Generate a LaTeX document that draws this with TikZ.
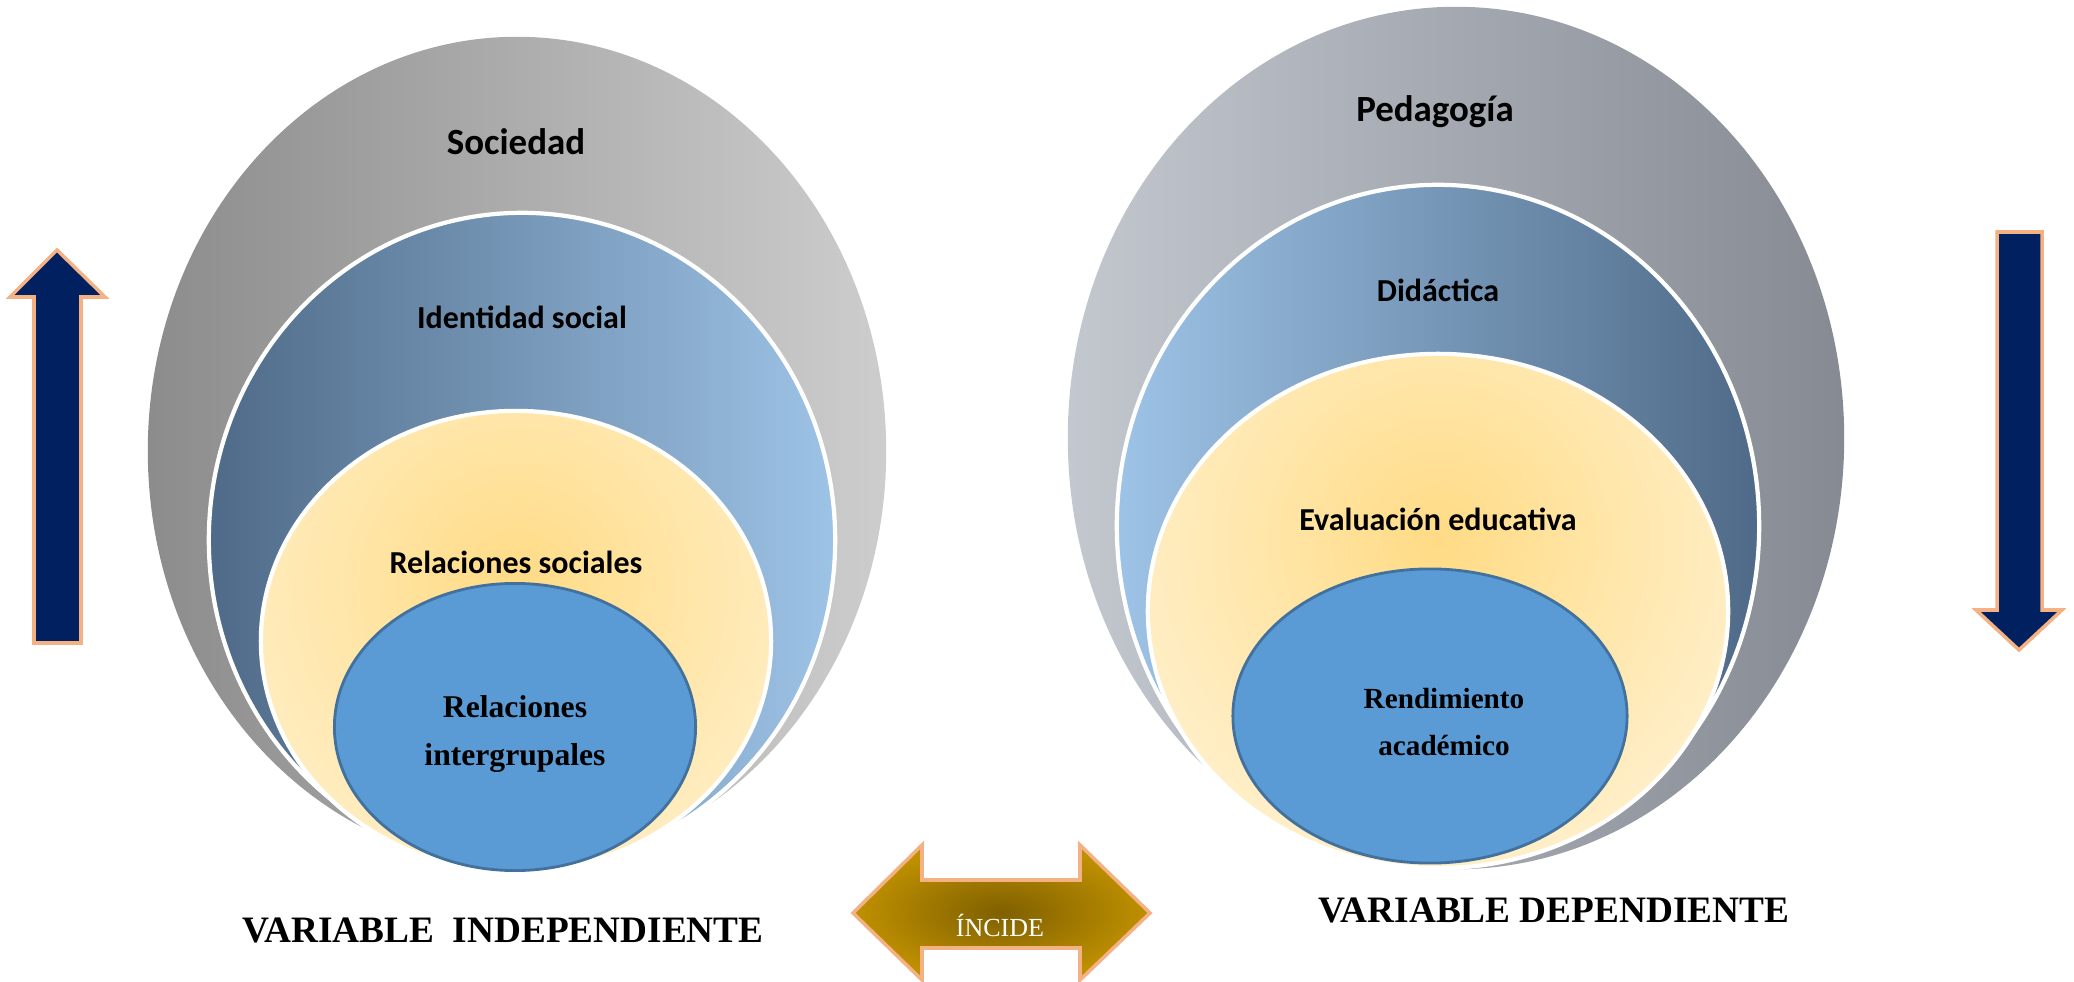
\documentclass[tikz,border=0pt]{standalone}
\usepackage{fontspec}
\setmainfont{Liberation Serif}
\newfontfamily\calfont{Carlito}
\usetikzlibrary{shapes.geometric}

\definecolor{navy}{HTML}{002060}
\definecolor{peach}{HTML}{F4B183}
\definecolor{coreblue}{HTML}{5B9BD5}
\definecolor{coreline}{HTML}{41719C}
\definecolor{slate}{HTML}{4F6A88}
\definecolor{sky}{HTML}{9DC3E6}
\definecolor{gold}{HTML}{FFDB85}
\definecolor{cream}{HTML}{FFF1CF}
\definecolor{bronze}{HTML}{BF9000}
\definecolor{umber}{HTML}{7F6000}
\definecolor{ashdark}{HTML}{8C8C8C}
\definecolor{ashlight}{HTML}{CDCDCD}
\definecolor{steellight}{HTML}{C3C8CF}
\definecolor{steeldark}{HTML}{858A93}

\tikzset{
  oval/.style={ellipse, inner sep=0pt},
  outer/.style={oval},
  ring/.style={oval, draw=white, line width=1.2pt},
  glow/.style={ring, fill=cream, path picture={
      \shade[inner color=gold, outer color=cream]
        ([yshift=#1]path picture bounding box.center) circle (3.6cm);}},
  core/.style={oval, fill=coreblue, draw=coreline, line width=0.8pt},
  titletext/.style={font=\calfont\bfseries\fontsize{10.5}{12}\selectfont},
  ringtext/.style={font=\calfont\bfseries\fontsize{9.1}{11}\selectfont},
  coretext/.style={font=\bfseries\fontsize{#1}{13.6}\selectfont, align=center},
  vartext/.style={font=\bfseries\fontsize{10.6}{12}\selectfont},
  bluearrow/.style={fill=navy, draw=peach, line width=1pt},
}

\begin{document}
\begin{tikzpicture}[x=0.01cm, y=-0.01cm]

\useasboundingbox (0,0) rectangle (2074,982);

% independent variable
\node[outer, left color=ashdark, right color=ashlight, minimum width=7.38cm, minimum height=8.28cm] (soc) at (517,451) {};
\node[ring, left color=slate, right color=sky, minimum width=6.26cm, minimum height=6.54cm] (ident) at (522,540) {};
\node[glow=0.55cm, minimum width=5.10cm, minimum height=4.60cm] (relsoc) at (516,641) {};
\node[core, minimum width=3.61cm, minimum height=2.87cm] (inter) at (515,727) {};

\node[titletext] (socT) at (516,142) {Sociedad};
\node[ringtext] (identT) at (522,317) {Identidad social};
\node[ringtext] (relsocT) at (516,562) {Relaciones sociales};
\node[coretext=9] (interT) at (515,734) {Relaciones\\intergrupales};

% dependent variable
\node[outer, left color=steellight, right color=steeldark, minimum width=7.76cm, minimum height=8.62cm] (ped) at (1456,438) {};
\node[ring, left color=sky, right color=slate, minimum width=6.42cm, minimum height=6.82cm] (dida) at (1438,526) {};
\node[glow=0.7cm, minimum width=5.80cm, minimum height=5.14cm] (evalu) at (1438,611) {};
\node[core, minimum width=3.94cm, minimum height=2.94cm] (rend) at (1430,716) {};

\node[titletext] (pedT) at (1435,112) {Pedagogía};
\node[ringtext] (didaT) at (1438,290) {Didáctica};
\node[ringtext] (evaluT) at (1438,519) {Evaluación educativa};
\node[coretext=8.3] (rendT) at (1444,722) {Rendimiento\\académico};

% side arrows
\draw[bluearrow] (34,643) -- (34,297) -- (10,297) -- (57,250) -- (105,297) -- (81,297) -- (81,643) -- cycle;
\draw[bluearrow] (1997,232) -- (1997,610) -- (1976,610) -- (2019,650) -- (2062,610) -- (2042,610) -- (2042,232) -- cycle;

% double arrow
\draw[inner color=umber, outer color=bronze, draw=peach, line width=1pt]
  (853,913) -- (922,845) -- (922,880) -- (1080,880) -- (1080,845) -- (1150,913)
  -- (1080,980) -- (1080,948) -- (922,948) -- (922,980) -- cycle;
\node[text=white, font=\fontsize{7.4}{9}\selectfont] (incide) at (1000,925) {ÍNCIDE};

% labels
\node[vartext] (indep) at (503,930) {VARIABLE\ \ INDEPENDIENTE};
\node[vartext] (dep) at (1554,910) {VARIABLE DEPENDIENTE};

\end{tikzpicture}
\end{document}
